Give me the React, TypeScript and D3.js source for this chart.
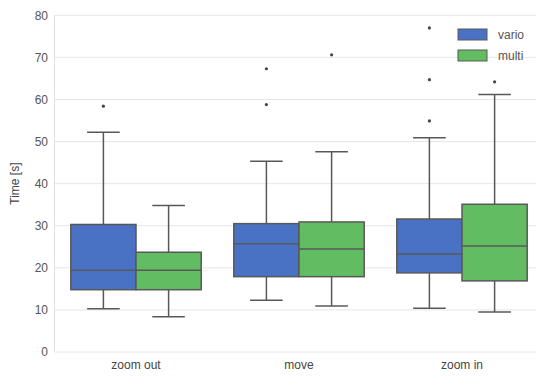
import React from "react";
import * as d3 from "d3";

const categories = ["zoom out", "move", "zoom in"];
const series = ["vario", "multi"];
const colors = ["#4A72C4", "#62BD62"];
// [whiskerLow, q1, median, q3, whiskerHigh]
const varioStats = [
  [10.3, 14.8, 19.4, 30.3, 52.2],
  [12.3, 17.9, 25.7, 30.5, 45.3],
  [10.4, 18.8, 23.3, 31.6, 50.9],
];
const multiStats = [
  [8.4, 14.8, 19.4, 23.7, 34.8],
  [10.9, 17.9, 24.5, 30.9, 47.6],
  [9.5, 16.9, 25.2, 35.1, 61.2],
];
const varioOutliers = [[58.4], [67.3, 58.8], [77, 64.7, 54.9]];
const multiOutliers = [[], [70.6], [64.2]];
const yTicks = [0, 10, 20, 30, 40, 50, 60, 70, 80];

export default function App() {
  const W = 536, H = 376;
  const left = 54.5, right = 543.5, top = 15.3, bottom = 352;
  const x = d3.scaleBand().domain(categories).range([left, right]);
  const bwAll = x.bandwidth();
  const inner = d3.scaleBand().domain(series).range([0.1 * bwAll, 0.9 * bwAll]).padding(0);
  const y = d3.scaleLinear().domain([0, 80]).range([bottom, top]);
  const statsBySeries = [varioStats, multiStats];
  const outBySeries = [varioOutliers, multiOutliers];
  const lineCol = "#585858";
  const font = "'Liberation Sans', Arial, sans-serif";

  return (
    <svg width={W} height={H} style={{ position: "absolute", left: 0, top: 0, background: "#fff" }}>
      {yTicks.map((t) => (
        <g key={t}>
          <line x1={left} x2={W} y1={y(t)} y2={y(t)} stroke="#e6e6e6" strokeWidth={1} />
          <text x={48} y={y(t)} dy="0.35em" textAnchor="end" fontSize={12} fill="#555" fontFamily={font}>{t}</text>
        </g>
      ))}
      <line x1={left} x2={left} y1={top} y2={bottom} stroke="#e0e0e0" strokeWidth={1} />
      <text transform={`translate(19,${(top + bottom) / 2}) rotate(-90)`} textAnchor="middle" fontSize={12} fill="#444" fontFamily={font}>Time [s]</text>
      {categories.map((c, ci) => (
        <g key={c}>
          {series.map((s, si) => {
            const st = statsBySeries[si][ci];
            const x0 = (x(c) as number) + (inner(s) as number);
            const bw = inner.bandwidth();
            const cx = x0 + bw / 2;
            return (
              <g key={s}>
                <line x1={cx} x2={cx} y1={y(st[3])} y2={y(st[4])} stroke={lineCol} strokeWidth={1.5} />
                <line x1={cx} x2={cx} y1={y(st[1])} y2={y(st[0])} stroke={lineCol} strokeWidth={1.5} />
                <line x1={cx - bw / 4} x2={cx + bw / 4} y1={y(st[4])} y2={y(st[4])} stroke={lineCol} strokeWidth={1.5} />
                <line x1={cx - bw / 4} x2={cx + bw / 4} y1={y(st[0])} y2={y(st[0])} stroke={lineCol} strokeWidth={1.5} />
                <rect x={x0} y={y(st[3])} width={bw} height={y(st[1]) - y(st[3])} fill={colors[si]} stroke={lineCol} strokeWidth={1.5} />
                <line x1={x0} x2={x0 + bw} y1={y(st[2])} y2={y(st[2])} stroke={lineCol} strokeWidth={1.5} />
                {outBySeries[si][ci].map((o, oi) => (
                  <circle key={oi} cx={cx} cy={y(o)} r={1.6} fill="#444" />
                ))}
              </g>
            );
          })}
          <text x={(x(c) as number) + x.bandwidth() / 2} y={365} dy="0.35em" textAnchor="middle" fontSize={12} fill="#444" fontFamily={font}>{c}</text>
        </g>
      ))}
      {series.map((s, si) => (
        <g key={s} transform={`translate(458,${29 + si * 21})`}>
          <rect x={0} y={0} width={29} height={11} fill={colors[si]} stroke={lineCol} strokeWidth={1} />
          <text x={40} y={5.5} dy="0.35em" fontSize={12} fill="#555" fontFamily={font}>{s}</text>
        </g>
      ))}
    </svg>
  );
}
